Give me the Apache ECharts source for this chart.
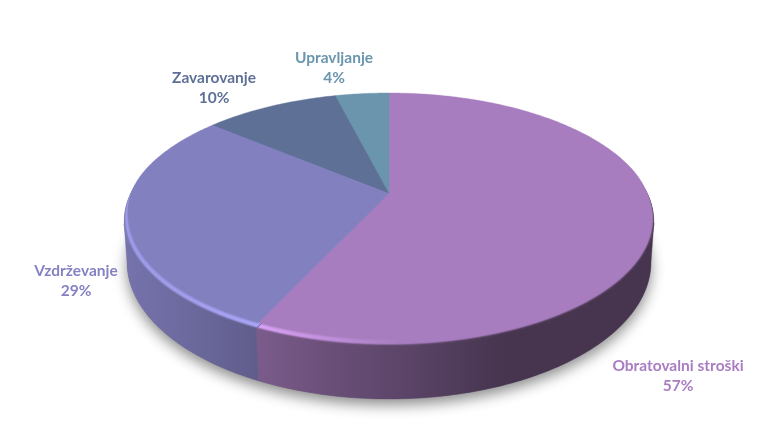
<!DOCTYPE html>
<html><head><meta charset="utf-8">
<style>html,body{margin:0;padding:0;background:#fff}#c{width:778px;height:442px}</style>
<script src="https://cdn.jsdelivr.net/npm/echarts@6/dist/echarts.min.js"></script>
</head><body><div id="c"></div>
<script>
const categories = ['Obratovalni stroški', 'Vzdrževanje', 'Zavarovanje', 'Upravljanje'];
const shares = [57, 29, 10, 4];
const faceColors = ['#a87dbf', '#8380c0', '#5e7096', '#6a95ad'];
const labelColors = ['#a97dc2', '#8582c4', '#5f7098', '#6a96ae'];
const labelCenters = [[678, 376], [76, 281], [214, 88], [334, 68]];

// perspective view of the disc
const apex = { x: 389, y: 193 };
const persp = { R: 259, S: 120.95, p: 0.2095 };
const outer = { cy: 219.5, rx: 265, ry: 126.5 };
const bevel = { dx: 5, dy: 3.5, levels: 10 };
const base = { ax: 389, ay: 251, cy: 262, rx: 262, ry: 137 };
const grad = { x0: 124, x1: 654 };
const stopX = [124, 190, 258, 330, 400, 500, 654];
const sideShade = [0.9, 0.82, 0.73, 0.63, 0.55, 0.42, 0.42];
const hiStrength = [0.7, 0.8, 1, 0.5, 0, 0, 0];

const total = shares.reduce((a, b) => a + b, 0);
function startFrac(i) { let s = 0; for (let k = 0; k < i; k++) s += shares[k]; return s / total; }
function dir(theta) {
  const X = Math.sin(theta), Y = -Math.cos(theta), w = 1 - persp.p * Y;
  return [persp.R * X / w, persp.S * Y / w];
}
function onEllipse(ax, ay, d, cy, rx, ry) {
  const a = d[0] * d[0] / (rx * rx) + d[1] * d[1] / (ry * ry);
  const o = ay - cy;
  const b = 2 * o * d[1] / (ry * ry);
  const c = o * o / (ry * ry) - 1;
  const s = (-b + Math.sqrt(b * b - 4 * a * c)) / (2 * a);
  return [ax + s * d[0], ay + s * d[1]];
}
function smooth(a, b, t) { const u = Math.max(0, Math.min(1, (t - a) / (b - a))); return u * u * (3 - 2 * u); }
// parametric angle of a slice direction: outer ellipse behind, flat face ellipse in front
function phiOf(theta) {
  const back = onEllipse(apex.x, apex.y, dir(theta), outer.cy, outer.rx, outer.ry);
  if (back[1] < outer.cy) return Math.atan2((back[1] - outer.cy) / outer.ry, (back[0] - apex.x) / outer.rx);
  const cy = outer.cy - bevel.dy, rx = outer.rx - bevel.dx, ry = outer.ry - bevel.dy;
  const p = onEllipse(apex.x, apex.y, dir(theta), cy, rx, ry);
  return Math.atan2((p[1] - cy) / ry, (p[0] - apex.x) / rx);
}
function rimPoint(phi, t, lower) {
  const s = Math.sin(phi), c = Math.cos(phi);
  const w = smooth(-0.45, 0.15, s), q = (1 - t) * w;
  let x = apex.x + (outer.rx - bevel.dx * q) * c;
  let y = outer.cy - bevel.dy * q + (outer.ry - bevel.dy * q) * s;
  if (lower) { x -= (1 - w) * 1.5 * c; y -= (1 - w) * 1.5 * s; }
  return [x, y];
}
function hex(c) { return [1, 3, 5].map(i => parseInt(c.substr(i, 2), 16)); }
function mix(a, b, t) { return a.map((v, i) => v + (b[i] - v) * t); }
function css(c) { return 'rgb(' + c.map(v => Math.round(Math.min(255, v))).join(',') + ')'; }
function fill(stops) {
  return { type: 'linear', x: grad.x0, y: 0, x2: grad.x1, y2: 0, global: true,
    colorStops: stopX.map((x, k) => ({ offset: (x - grad.x0) / (grad.x1 - grad.x0), color: stops(k) })) };
}
function sideFill(i) {
  const f = hex(faceColors[i]);
  return fill(k => css(f.map(v => v * sideShade[k])));
}
function levelFill(i, t) {
  const f = hex(faceColors[i]), hi = f.map(v => v * 1.3);
  const bump = Math.sin(Math.PI * Math.min(1, t / 0.95));
  const dark = smooth(0.65, 1, t);
  return fill(k => css(mix(mix(f, hi, hiStrength[k] * bump), f.map(v => v * sideShade[k]), dark)));
}
function arcAngles(i) {
  const a0 = startFrac(i) * 2 * Math.PI, a1 = (startFrac(i) + shares[i] / total) * 2 * Math.PI;
  const n = Math.max(6, Math.ceil((a1 - a0) / 0.015)), out = [];
  for (let k = 0; k <= n; k++) out.push(a0 + (a1 - a0) * k / n);
  return out;
}

function renderShadow() {
  return { type: 'ellipse', shape: { cx: base.ax, cy: base.cy, rx: base.rx, ry: base.ry },
    style: { fill: '#777', shadowBlur: 14, shadowColor: 'rgba(0,0,0,0.45)', shadowOffsetY: 6 } };
}
function renderSide(params) {
  const i = params.dataIndex, ang = arcAngles(i);
  const up = ang.map(a => rimPoint(phiOf(a), 1)).filter(p => p[1] >= outer.cy);
  const dn = ang.map(a => onEllipse(base.ax, base.ay, dir(a), base.cy, base.rx, base.ry)).filter(p => p[1] >= base.cy);
  if (!up.length || !dn.length) return { type: 'group', children: [] };
  const f = sideFill(i);
  return { type: 'polygon', shape: { points: up.concat(dn.reverse()) }, style: { fill: f, stroke: f, lineWidth: 0.4 } };
}
function wedge(i, t, lower) {
  return [[apex.x, apex.y]].concat(arcAngles(i).map(a => rimPoint(phiOf(a), t, lower)));
}
function renderBevel(params) {
  const i = params.dataIndex, children = [];
  for (let l = bevel.levels; l >= 1; l--) {
    const t = l / bevel.levels, f = levelFill(i, t);
    children.push({ type: 'polygon', shape: { points: wedge(i, t, true) }, style: { fill: f, stroke: f, lineWidth: 0.4 } });
  }
  return { type: 'group', children };
}
function renderFace(params) {
  const i = params.dataIndex, f = faceColors[i];
  return { type: 'polygon', shape: { points: wedge(i, 0, false) }, style: { fill: f, stroke: f, lineWidth: 0.4 } };
}
function renderLabel(params, api) {
  const i = params.dataIndex;
  return { type: 'text', x: labelCenters[i][0], y: labelCenters[i][1],
    style: { text: api.value(1) + '\n' + api.value(0) + '%', fill: labelColors[i], align: 'center', verticalAlign: 'middle',
      font: 'bold 15.5px Lato, "Open Sans", sans-serif', lineHeight: 20 } };
}
const dims = ['value', { name: 'name', type: 'ordinal' }];
const rows = categories.map((name, i) => [shares[i], name]);
const layer = (renderItem, z) => ({ type: 'custom', coordinateSystem: 'none', silent: true, data: rows, dimensions: dims, renderItem, z });
const chart = echarts.init(document.getElementById('c'));
chart.setOption({
  animation: false, backgroundColor: '#fff',
  series: [
    { type: 'custom', coordinateSystem: 'none', silent: true, data: [[1]], renderItem: renderShadow, z: 1 },
    layer(renderSide, 2),
    layer(renderBevel, 3),
    layer(renderFace, 4),
    layer(renderLabel, 5)
  ]
});
</script></body></html>
